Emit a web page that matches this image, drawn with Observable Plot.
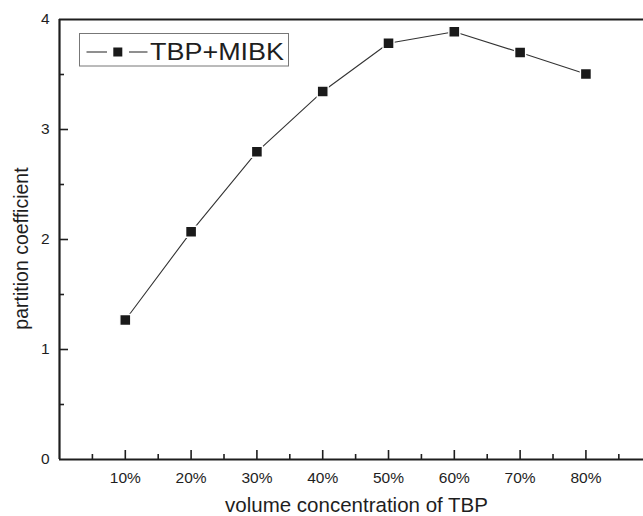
<!DOCTYPE html>
<html>
<head>
<meta charset="utf-8">
<script src="https://cdn.jsdelivr.net/npm/d3@7"></script>
<script src="https://cdn.jsdelivr.net/npm/@observablehq/plot@0.6"></script>
<style>
  html, body { margin: 0; padding: 0; background: #fff; }
  #chart { width: 643px; height: 516px; }
</style>
</head>
<body>
<div id="chart"></div>
<script>
// ---- data ----
const concentrations = [10, 20, 30, 40, 50, 60, 70, 80];          // volume % of TBP
const categoryLabels = ["10%", "20%", "30%", "40%", "50%", "60%", "70%", "80%"];
const partitionCoefficient = [1.268, 2.07, 2.797, 3.346, 3.784, 3.888, 3.70, 3.505];
const yTickValues = [0, 1, 2, 3, 4];
const xMinorTicks = [5, 15, 25, 35, 45, 55, 65, 75, 85];
const yMajorTicks = [1, 2, 3];
const yMinorTicks = [0.5, 1.5, 2.5, 3.5];
const seriesName = "TBP+MIBK";
const xTitle = "volume concentration of TBP";
const yTitle = "partition coefficient";

const data = concentrations.map((c, i) => ({x: c, y: partitionCoefficient[i], label: categoryLabels[i]}));

const FONT = "'Liberation Sans', Arial, Helvetica, sans-serif";
const ink = "#1e1e1e";

const chart = Plot.plot({
  width: 643,
  height: 516,
  marginLeft: 59,
  marginRight: 0,
  marginTop: 19,
  marginBottom: 57,
  style: {fontFamily: FONT, background: "#fff", color: ink, overflow: "visible"},
  x: {domain: [0, 88.75]},
  y: {domain: [0, 4]},
  marks: [
    // inward tick marks
    Plot.ruleX(concentrations, {x: d => d, y1: 0, y2: 0, insetTop: -9, stroke: ink, strokeWidth: 1.6}),
    Plot.ruleX(xMinorTicks, {x: d => d, y1: 0, y2: 0, insetTop: -5, stroke: ink, strokeWidth: 1.6}),
    Plot.ruleY(yMajorTicks, {y: d => d, x1: 0, x2: 0, insetRight: -9, stroke: ink, strokeWidth: 1.6}),
    Plot.ruleY(yMinorTicks, {y: d => d, x1: 0, x2: 0, insetRight: -5, stroke: ink, strokeWidth: 1.6}),
    // tick labels
    Plot.axisX(concentrations, {tickSize: 0, tickPadding: 12, tickFormat: (d, i) => categoryLabels[i], fontSize: 15.5, label: null, fill: ink}),
    Plot.axisY(yTickValues, {tickSize: 0, tickPadding: 10, tickFormat: d => String(d), fontSize: 15.5, label: null, fill: ink}),
    // axis frame lines
    Plot.ruleY([0], {stroke: ink, strokeWidth: 2.2}),
    Plot.ruleY([4], {stroke: ink, strokeWidth: 2.2}),
    Plot.ruleX([0], {stroke: ink, strokeWidth: 2.2}),
    // series
    Plot.line(data, {x: "x", y: "y", stroke: "#333", strokeWidth: 1.1}),
    Plot.dot(data, {x: "x", y: "y", symbol: "square", r: 6.2, fill: "#1a1a1a", stroke: "#fff", strokeWidth: 1.4}),
    // axis titles
    Plot.text([xTitle], {frameAnchor: "bottom", text: d => d, textAnchor: "middle", dx: 5, dy: 52, fontSize: 20.5, fill: ink, fontFamily: FONT}),
    Plot.text([yTitle], {frameAnchor: "left", text: d => d, textAnchor: "middle", rotate: -90, dx: -38, dy: 9, fontSize: 19.5, fill: ink, fontFamily: FONT})
  ]
});

// legend (inside plot area, top-left)
const svg = d3.select(chart);
const lg = svg.append("g").attr("class", "legend");
lg.append("rect").attr("x", 79.5).attr("y", 33.5).attr("width", 209).attr("height", 32.5)
  .attr("fill", "#fff").attr("stroke", "#777").attr("stroke-width", 1);
lg.append("line").attr("x1", 86.5).attr("x2", 107).attr("y1", 52).attr("y2", 52).attr("stroke", "#333").attr("stroke-width", 1.1);
lg.append("line").attr("x1", 129).attr("x2", 147.5).attr("y1", 52).attr("y2", 52).attr("stroke", "#333").attr("stroke-width", 1.1);
lg.append("rect").attr("x", 113.3).attr("y", 47.5).attr("width", 9).attr("height", 9).attr("fill", "#1a1a1a");
lg.append("text").attr("x", 150).attr("y", 60).attr("text-anchor", "start").attr("font-family", FONT).attr("font-size", 24)
  .attr("fill", ink).attr("textLength", 134).attr("lengthAdjust", "spacingAndGlyphs").text(seriesName);

document.getElementById("chart").appendChild(chart);
</script>
</body>
</html>
